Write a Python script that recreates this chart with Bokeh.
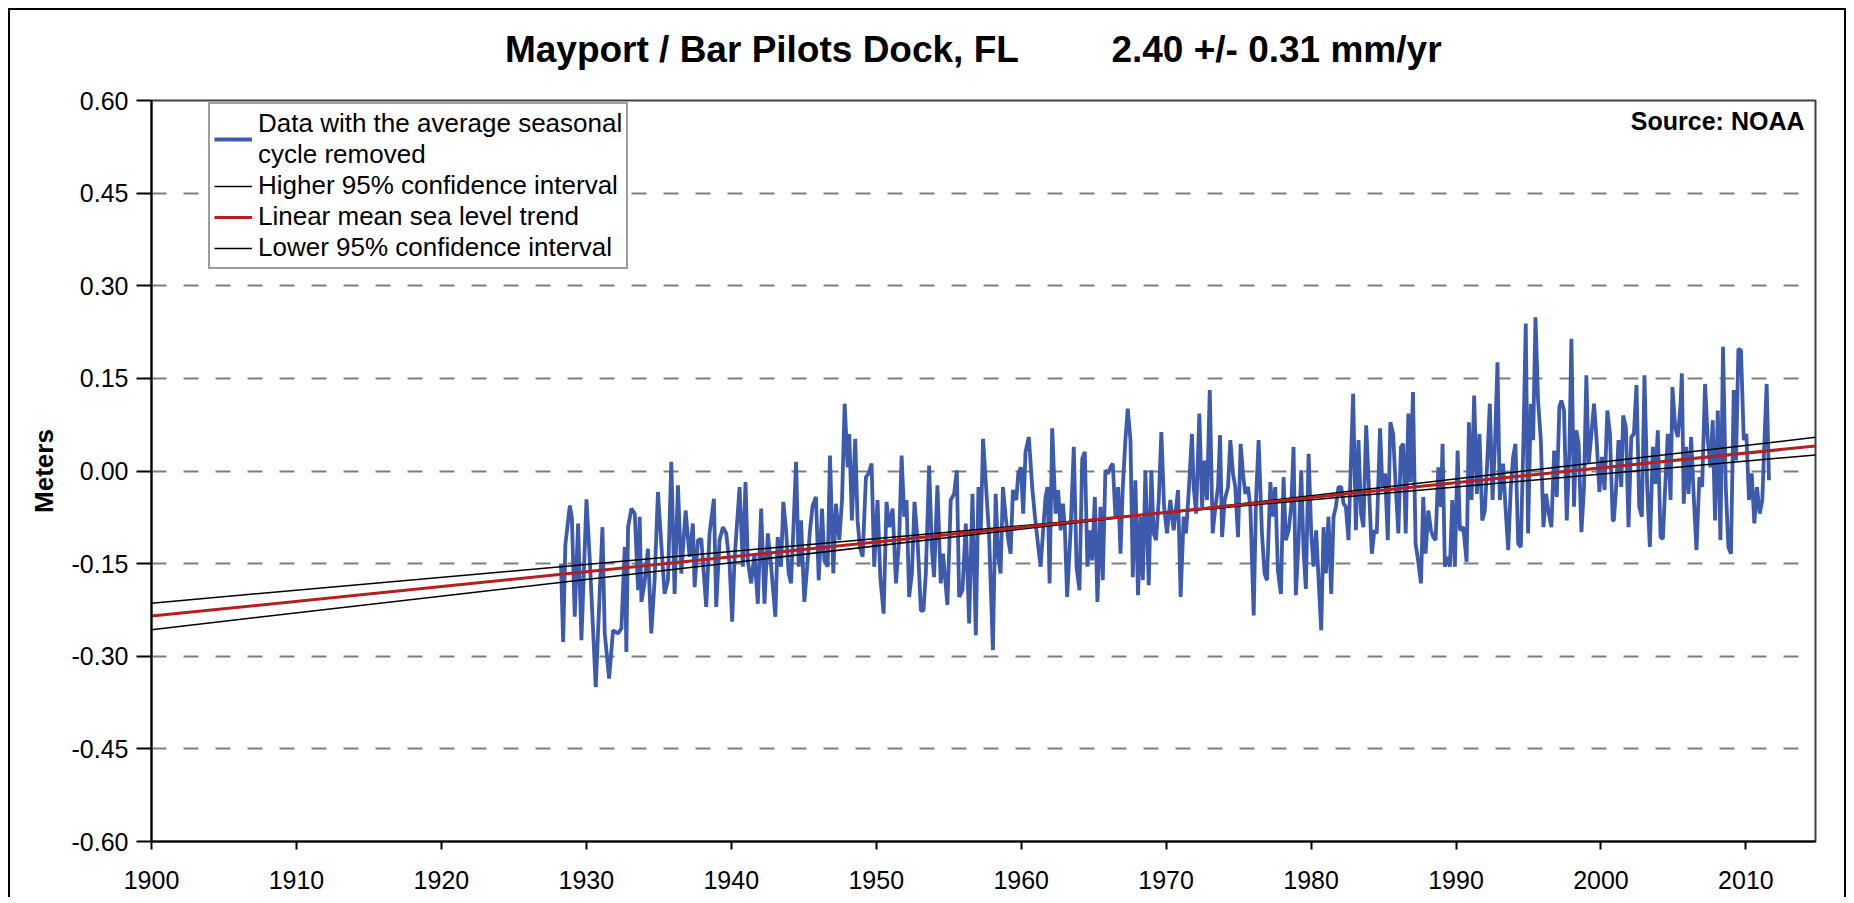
from bokeh.plotting import figure
from bokeh.models import Range1d, FixedTicker, NumeralTickFormatter, Legend, LegendItem, Label, Title
from bokeh.embed import file_html
from bokeh.resources import INLINE

# ---------------- text ----------------
station = "Mayport / Bar Pilots Dock, FL"
rate_text = "2.40 +/- 0.31 mm/yr"
source_text = "Source: NOAA"
y_label = "Meters"
legend_labels = [
    "Data with the average seasonal\ncycle removed",
    "Higher 95% confidence interval",
    "Linear mean sea level trend",
    "Lower 95% confidence interval",
]

# ---------------- ticks ----------------
x_ticks = [1900, 1910, 1920, 1930, 1940, 1950, 1960, 1970, 1980, 1990, 2000, 2010]
y_ticks = [-0.60, -0.45, -0.30, -0.15, 0.0, 0.15, 0.30, 0.45, 0.60]

# ---------------- monthly MSL (seasonal cycle removed), meters: (year, value) ----------------
msl_1928_1942 = [
    (1928.25, -0.150), (1928.40, -0.277), (1928.55, -0.120), (1928.86, -0.056), (1929.00, -0.075),
    (1929.20, -0.236), (1929.43, -0.085), (1929.66, -0.274), (1930.01, -0.046), (1930.24, -0.145),
    (1930.65, -0.350), (1931.11, -0.091), (1931.27, -0.263), (1931.57, -0.336), (1931.84, -0.258),
    (1932.19, -0.263), (1932.42, -0.255), (1932.65, -0.123), (1932.76, -0.293), (1932.88, -0.091),
    (1933.11, -0.061), (1933.34, -0.069), (1933.57, -0.193), (1933.68, -0.074), (1933.80, -0.212),
    (1934.02, -0.180), (1934.25, -0.126), (1934.48, -0.263), (1934.71, -0.177), (1934.94, -0.034),
    (1935.17, -0.118), (1935.40, -0.199), (1935.63, -0.177), (1935.86, 0.015), (1936.09, -0.199),
    (1936.32, -0.023), (1936.55, -0.166), (1936.85, -0.064), (1937.12, -0.139), (1937.35, -0.085),
    (1937.47, -0.188), (1937.70, -0.112), (1937.93, -0.110), (1938.27, -0.220), (1938.50, -0.101),
    (1938.80, -0.045), (1938.96, -0.220), (1939.19, -0.112), (1939.42, -0.091), (1939.65, -0.101),
    (1939.88, -0.150), (1940.06, -0.244), (1940.22, -0.145), (1940.57, -0.026), (1940.80, -0.155),
    (1940.98, -0.018), (1941.14, -0.145), (1941.37, -0.182), (1941.60, -0.134), (1941.83, -0.215),
    (1942.06, -0.061), (1942.29, -0.215), (1942.52, -0.101), (1942.75, -0.155),
]
msl_1943_1957 = [
    (1943.04, -0.236), (1943.20, -0.107), (1943.43, -0.155), (1943.59, -0.050), (1943.78, -0.096),
    (1943.96, -0.166), (1944.12, -0.182), (1944.28, -0.096), (1944.47, 0.015), (1944.65, -0.155),
    (1944.81, -0.080), (1945.04, -0.212), (1945.27, -0.145), (1945.43, -0.096), (1945.61, -0.056),
    (1945.84, -0.042), (1946.03, -0.177), (1946.26, -0.061), (1946.42, -0.145), (1946.65, -0.155),
    (1946.81, 0.025), (1947.04, -0.166), (1947.22, -0.053), (1947.45, -0.112), (1947.64, -0.047),
    (1947.82, 0.109), (1948.03, 0.006), (1948.14, 0.060), (1948.32, -0.080), (1948.55, 0.052),
    (1948.71, -0.080), (1948.87, -0.123), (1949.06, -0.139), (1949.29, -0.010), (1949.47, -0.004),
    (1949.68, 0.012), (1949.86, -0.155), (1950.09, -0.047), (1950.28, -0.172), (1950.51, -0.231),
    (1950.71, -0.050), (1950.90, -0.091), (1951.13, -0.061), (1951.36, -0.182), (1951.58, -0.112),
    (1951.75, 0.025), (1951.93, -0.074), (1952.09, -0.047), (1952.27, -0.204), (1952.46, -0.166),
    (1952.64, -0.050), (1952.85, -0.112), (1953.08, -0.226), (1953.26, -0.226), (1953.42, -0.166),
    (1953.65, 0.009), (1953.83, -0.123), (1953.99, -0.172), (1954.22, -0.023), (1954.45, -0.182),
    (1954.61, -0.134), (1954.91, -0.217), (1955.14, -0.047), (1955.37, -0.037), (1955.56, 0.001),
    (1955.72, -0.204), (1955.95, -0.193), (1956.18, -0.085), (1956.41, -0.247), (1956.64, -0.037),
    (1956.87, -0.266), (1957.05, -0.026), (1957.21, -0.101), (1957.37, 0.052),
]
msl_1957_1971 = [
    (1957.78, -0.101), (1958.05, -0.290), (1958.24, -0.037), (1958.42, -0.139), (1958.58, -0.166),
    (1958.74, -0.026), (1958.93, -0.074), (1959.11, -0.112), (1959.27, -0.134), (1959.43, -0.031),
    (1959.66, -0.047), (1959.80, -0.004), (1959.98, 0.006), (1960.14, -0.069), (1960.30, 0.031),
    (1960.53, 0.055), (1960.76, -0.026), (1960.95, -0.074), (1961.18, -0.123), (1961.34, -0.155),
    (1961.50, -0.101), (1961.68, -0.042), (1961.82, -0.026), (1961.96, -0.182), (1962.14, 0.069),
    (1962.37, -0.069), (1962.55, -0.031), (1962.72, -0.096), (1962.88, -0.053), (1963.01, -0.091),
    (1963.17, -0.204), (1963.40, -0.101), (1963.63, 0.039), (1963.82, -0.155), (1964.02, -0.193),
    (1964.21, 0.020), (1964.39, 0.031), (1964.57, -0.155), (1964.76, -0.096), (1964.90, -0.145),
    (1965.08, -0.042), (1965.26, -0.212), (1965.47, -0.058), (1965.63, -0.177), (1965.81, 0.001),
    (1966.00, -0.004), (1966.16, 0.006), (1966.32, 0.012), (1966.50, -0.074), (1966.69, -0.026),
    (1966.85, -0.134), (1967.01, -0.026), (1967.19, 0.050), (1967.35, 0.101), (1967.54, 0.050),
    (1967.70, -0.172), (1967.88, -0.015), (1968.06, -0.201), (1968.23, -0.074), (1968.39, -0.177),
    (1968.57, 0.001), (1968.80, -0.185), (1968.98, 0.001), (1969.14, -0.101), (1969.30, -0.112),
    (1969.49, -0.047), (1969.67, 0.063), (1969.86, -0.058), (1970.06, -0.101), (1970.29, -0.047),
    (1970.52, -0.096), (1970.82, -0.031), (1971.00, -0.204), (1971.21, -0.074), (1971.37, -0.101),
    (1971.55, -0.037), (1971.78, 0.060),
]
msl_1972_1986 = [
    (1971.90, -0.026), (1972.07, -0.069), (1972.29, 0.093), (1972.48, -0.058), (1972.66, 0.017),
    (1972.82, -0.047), (1973.01, 0.131), (1973.21, -0.101), (1973.40, -0.058), (1973.58, -0.026),
    (1973.72, 0.058), (1973.86, -0.107), (1974.04, -0.047), (1974.27, -0.026), (1974.43, 0.050),
    (1974.61, -0.004), (1974.77, -0.026), (1974.96, -0.107), (1975.14, 0.044), (1975.30, -0.004),
    (1975.46, -0.037), (1975.65, -0.026), (1975.81, -0.058), (1976.04, -0.234), (1976.20, -0.047),
    (1976.38, 0.050), (1976.61, -0.101), (1976.79, -0.166), (1976.96, -0.177), (1977.19, -0.018),
    (1977.35, -0.074), (1977.53, -0.026), (1977.71, -0.161), (1977.92, -0.199), (1978.10, -0.010),
    (1978.26, -0.112), (1978.45, -0.096), (1978.63, -0.058), (1978.79, 0.039), (1978.95, -0.201),
    (1979.14, -0.112), (1979.32, 0.001), (1979.48, -0.128), (1979.64, -0.191), (1979.83, 0.028),
    (1980.01, -0.101), (1980.17, -0.155), (1980.35, -0.096), (1980.51, -0.172), (1980.70, -0.258),
    (1980.86, -0.091), (1981.02, -0.166), (1981.20, -0.074), (1981.39, -0.199), (1981.55, -0.074),
    (1981.71, -0.058), (1981.89, -0.026), (1982.08, -0.026), (1982.24, -0.053), (1982.40, -0.058),
    (1982.58, -0.112), (1982.76, 0.023), (1982.90, 0.125), (1983.09, -0.096), (1983.27, 0.050),
    (1983.45, -0.069), (1983.61, -0.091), (1983.80, 0.074), (1983.96, -0.010), (1984.19, -0.134),
    (1984.37, -0.096), (1984.53, -0.101), (1984.76, 0.069), (1984.92, -0.026), (1985.11, -0.004),
    (1985.29, -0.112), (1985.47, 0.079), (1985.66, 0.060), (1985.84, -0.026), (1986.02, -0.101),
]
msl_1986_2000 = [
    (1986.20, 0.039), (1986.36, 0.044), (1986.53, -0.101), (1986.71, 0.093), (1986.85, -0.018),
    (1987.03, 0.128), (1987.21, -0.118), (1987.35, -0.139), (1987.58, -0.182), (1987.74, -0.042),
    (1987.90, -0.134), (1988.09, -0.064), (1988.27, -0.096), (1988.43, -0.107), (1988.59, -0.112),
    (1988.78, 0.006), (1988.96, -0.058), (1989.07, 0.044), (1989.23, -0.155), (1989.42, -0.139),
    (1989.58, -0.155), (1989.74, -0.047), (1989.92, -0.155), (1990.11, 0.033), (1990.27, -0.096),
    (1990.50, -0.091), (1990.73, -0.147), (1990.89, 0.079), (1991.07, -0.047), (1991.25, 0.122),
    (1991.44, -0.037), (1991.62, 0.060), (1991.81, -0.080), (1991.99, -0.064), (1992.17, 0.023),
    (1992.33, 0.109), (1992.52, -0.047), (1992.68, 0.039), (1992.86, 0.176), (1993.02, -0.047),
    (1993.25, 0.012), (1993.41, -0.058), (1993.60, -0.128), (1993.78, -0.026), (1993.94, 0.023),
    (1994.10, 0.044), (1994.29, -0.118), (1994.47, -0.123), (1994.65, 0.050), (1994.81, 0.239),
    (1994.97, -0.101), (1995.16, 0.109), (1995.32, 0.050), (1995.48, 0.249), (1995.66, 0.114),
    (1995.85, 0.050), (1996.03, -0.091), (1996.21, -0.037), (1996.40, -0.069), (1996.58, -0.091),
    (1996.77, 0.033), (1996.95, -0.042), (1997.13, 0.104), (1997.27, 0.114), (1997.45, 0.098),
    (1997.64, -0.080), (1997.82, 0.033), (1997.96, 0.214), (1998.14, -0.058), (1998.30, 0.066),
    (1998.46, 0.044), (1998.65, -0.099), (1998.83, -0.026), (1998.99, 0.155), (1999.15, 0.012),
    (1999.34, 0.060), (1999.52, 0.109), (1999.70, 0.050), (1999.89, -0.034), (2000.07, 0.023),
    (2000.25, -0.031), (2000.44, 0.098), (2000.62, 0.060), (2000.81, -0.080),
]
msl_2001_2011 = [
    (2000.89, -0.080), (2001.05, -0.026), (2001.21, 0.050), (2001.40, -0.026), (2001.53, 0.090),
    (2001.72, 0.071), (2001.90, -0.091), (2002.09, 0.055), (2002.27, 0.060), (2002.45, 0.139),
    (2002.64, -0.058), (2002.82, -0.074), (2003.00, 0.155), (2003.19, -0.026), (2003.37, -0.123),
    (2003.58, 0.039), (2003.74, -0.021), (2003.92, 0.066), (2004.11, -0.107), (2004.27, -0.110),
    (2004.43, -0.026), (2004.61, 0.060), (2004.80, -0.047), (2004.93, 0.136), (2005.12, 0.071),
    (2005.30, 0.055), (2005.48, 0.104), (2005.58, 0.158), (2005.71, -0.053), (2005.87, 0.039),
    (2006.04, -0.037), (2006.22, 0.055), (2006.40, -0.042), (2006.59, -0.128), (2006.79, -0.010),
    (2006.98, -0.026), (2007.18, 0.141), (2007.37, 0.050), (2007.55, 0.006), (2007.71, 0.082),
    (2007.87, -0.080), (2008.06, 0.098), (2008.24, -0.112), (2008.42, 0.201), (2008.61, -0.026),
    (2008.79, -0.123), (2008.97, -0.134), (2009.16, 0.131), (2009.32, 0.017), (2009.48, 0.198),
    (2009.66, 0.195), (2009.85, 0.050), (2010.03, 0.060), (2010.21, -0.047), (2010.40, -0.004),
    (2010.58, -0.085), (2010.76, -0.026), (2010.95, -0.069), (2011.13, -0.047), (2011.27, 0.044),
    (2011.43, 0.141), (2011.59, -0.015),
]

# ---------------- linear trend and 95% confidence lines (meters) ----------------
trend_years = [1900.0, 2014.8]
trend_msl = [-0.235, 0.0405]
ci_high_msl = [-0.257, 0.0545]
ci_low_msl = [-0.214, 0.026]

# ---------------- build ----------------
all_pairs = (msl_1928_1942 + msl_1943_1957 + msl_1957_1971 +
             msl_1972_1986 + msl_1986_2000 + msl_2001_2011)
years = [a for a, b in all_pairs]
msl = [b for a, b in all_pairs]

FONT = "Liberation Sans"
BLUE = "#3d5aad"
RED = "#b3201f"
NBSP = "\u00a0"

p = figure(
    width=1838, height=889,
    x_range=Range1d(1900, 2014.8), y_range=Range1d(-0.60, 0.60),
    output_backend="svg", toolbar_location=None,
    min_border_left=141, min_border_right=33, min_border_top=90, min_border_bottom=58,
    background_fill_color="white", border_fill_color="white",
)
p.styles = {
    "margin-left": "8px",
    "margin-top": "8px",
    "border-top": "2px solid #000000",
    "border-left": "2px solid #000000",
    "border-right": "2px solid #000000",
}

p.title.text = station + NBSP * 9 + rate_text + NBSP * 2
p.title.align = "center"
p.title.vertical_align = "top"
p.title.text_font = FONT
p.title.text_font_size = "37px"
p.title.text_font_style = "bold"
p.title.text_color = "black"
p.title.standoff = 10

# blank spacer between the title and the plot frame (keeps the title higher)
spacer = Title(text=NBSP, text_font_size="10px", text_color="white", standoff=11)
p.add_layout(spacer, "above")

r_data = p.line(years, msl, line_color=BLUE, line_width=3.8)
r_hi = p.line(trend_years, ci_high_msl, line_color="black", line_width=1.5)
r_lo = p.line(trend_years, ci_low_msl, line_color="black", line_width=1.5)
r_tr = p.line(trend_years, trend_msl, line_color=RED, line_width=3)

p.xaxis.ticker = FixedTicker(ticks=x_ticks)
p.yaxis.ticker = FixedTicker(ticks=y_ticks)
p.yaxis.formatter = NumeralTickFormatter(format="0.00")
for ax in (p.xaxis[0], p.yaxis[0]):
    ax.axis_line_color = "black"
    ax.axis_line_width = 2
    ax.major_tick_line_color = "black"
    ax.major_tick_line_width = 2
    ax.minor_tick_line_color = None
    ax.major_label_text_font = FONT
    ax.major_label_text_font_size = "25px"
    ax.major_label_text_color = "black"
p.yaxis.major_tick_out = 15
p.yaxis.major_tick_in = 0
p.yaxis.major_label_standoff = 8
p.xaxis.major_tick_out = 8
p.xaxis.major_tick_in = 0
p.xaxis.major_label_standoff = 21
p.yaxis.axis_label = y_label
p.yaxis.axis_label_text_font = FONT
p.yaxis.axis_label_text_font_size = "26px"
p.yaxis.axis_label_text_font_style = "bold"
p.yaxis.axis_label_text_color = "black"
p.yaxis.axis_label_standoff = 10

p.xgrid.visible = False
p.ygrid.grid_line_color = "#7f7f7f"
p.ygrid.grid_line_width = 2
p.ygrid.grid_line_dash = "15 17"

p.outline_line_color = "#404040"
p.outline_line_width = 2

legend = Legend(
    items=[
        LegendItem(label=legend_labels[0], renderers=[r_data]),
        LegendItem(label=legend_labels[1], renderers=[r_hi]),
        LegendItem(label=legend_labels[2], renderers=[r_tr]),
        LegendItem(label=legend_labels[3], renderers=[r_lo]),
    ],
    location=(57, 572),
)
legend.label_text_font = FONT
legend.label_text_font_size = "26px"
legend.label_text_color = "black"
legend.glyph_width = 38
legend.glyph_height = 26
legend.label_height = 26
legend.label_standoff = 6
legend.spacing = 0
legend.padding = 4
legend.margin = 0
legend.border_line_color = "#3c3c3c"
legend.border_line_width = 2
legend.background_fill_color = "white"
legend.background_fill_alpha = 1.0
p.add_layout(legend)

src = Label(
    x=2014.8, y=0.60, text=source_text,
    text_align="right", text_baseline="top",
    x_offset=-11, y_offset=-6,
    text_font=FONT, text_font_size="25px", text_font_style="bold", text_color="black",
)
p.add_layout(src)

open("out.html", "w").write(file_html(p, INLINE))
